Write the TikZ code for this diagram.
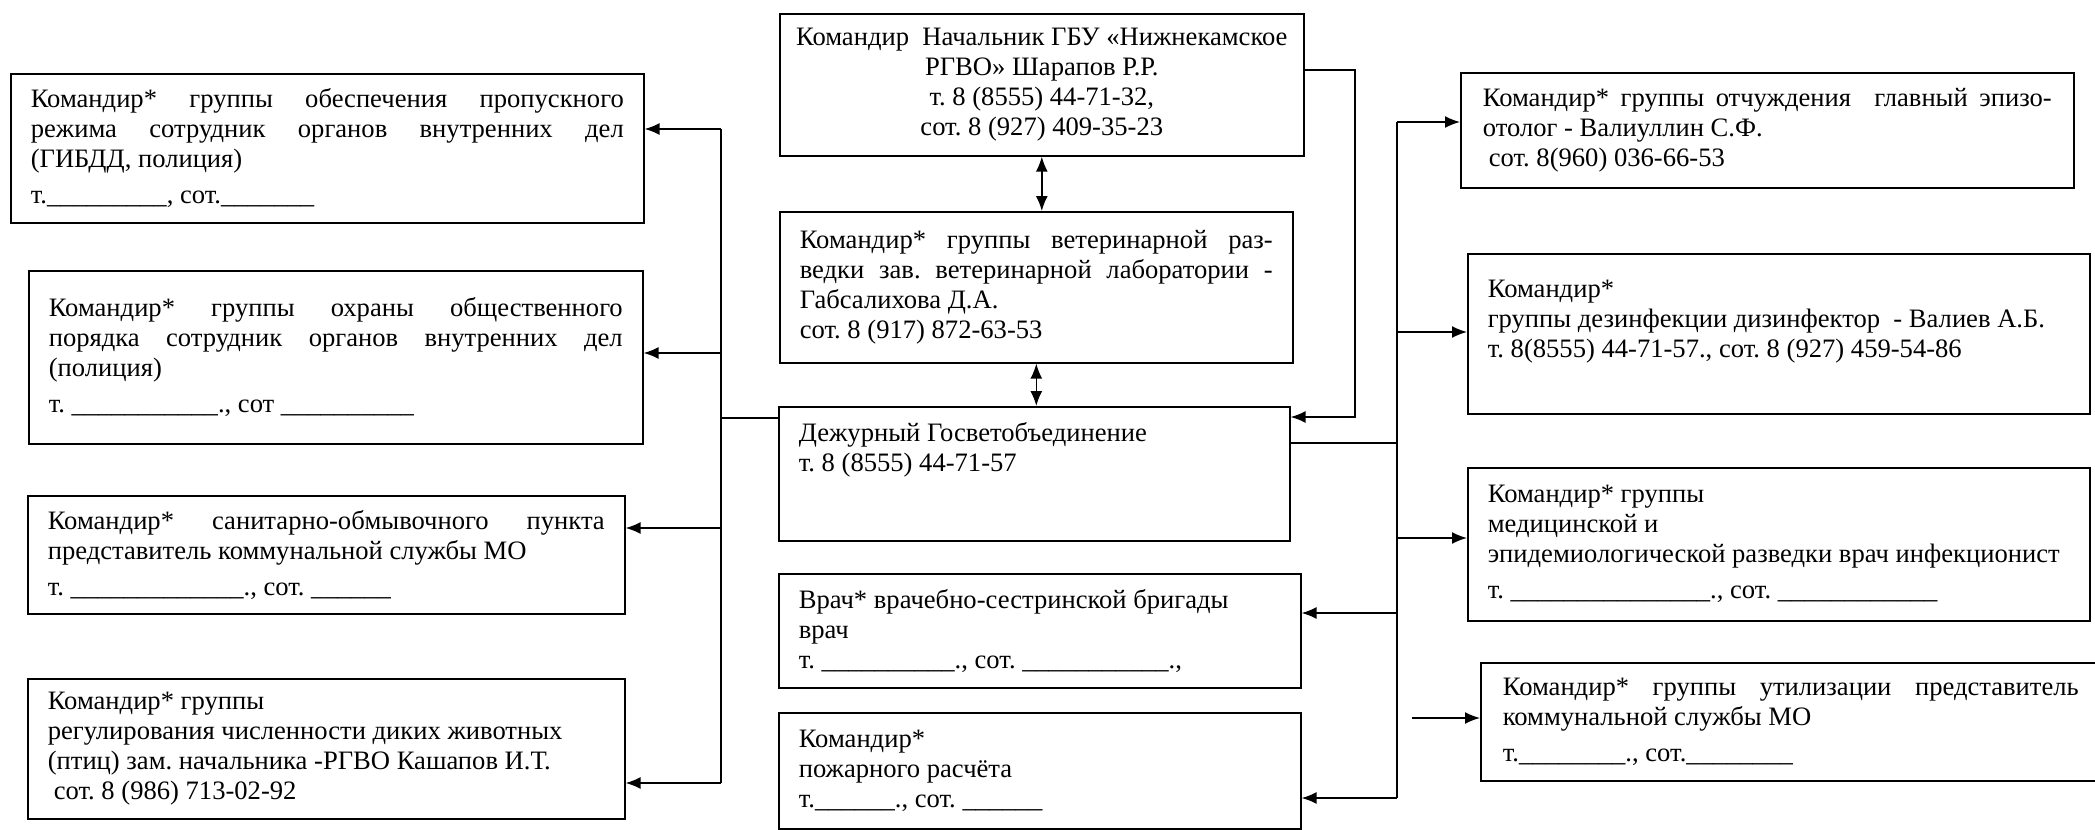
\documentclass[tikz,border=0pt]{standalone}
\usepackage{fontspec}
\setmainfont{Liberation Serif}
\usetikzlibrary{arrows.meta}
\newcommand\blank[1]{\foreach\k in {1,...,#1}{\_}}
\tikzset{
    unit/.style={draw, line width=0.8pt, anchor=north west, inner xsep=10pt, inner ysep=0pt,
        align=justify, font=\fontsize{13.3}{15}\selectfont,
        execute at begin node={\frenchspacing\spaceskip=0.25em plus 3em minus 0.05em\relax}},
    link/.style={line width=0.8pt},
    >={Latex[length=7.5pt,width=6pt]}
}
\begin{document}
\begin{tikzpicture}[x=0.5pt,y=-0.5pt]
            \useasboundingbox (0,0) rectangle (2095,830);
            % left column
            \node[unit, text width=296.5pt, minimum height=74.5pt] (L1) at (10,73)
                {Командир* группы обеспечения пропускного\linebreak
                 режима сотрудник органов внутренних дел\linebreak
                 (ГИБДД, полиция)\\[3pt]
                 т.\blank{9}, сот.\blank{7}};
            \node[unit, text width=287pt, minimum height=86.5pt] (L2) at (28,270)
                {Командир* группы охраны общественного\linebreak
                 порядка сотрудник органов внутренних дел\linebreak
                 (полиция)\\[3pt]
                 т. \blank{11}., сот \blank{10}};
            \node[unit, text width=278.5pt, minimum height=59pt] (L3) at (27,495)
                {Командир* санитарно-обмывочного пункта\linebreak
                 представитель коммунальной службы МО\\[3pt]
                 т. \blank{13}., сот. \blank{6}};
            \node[unit, text width=278.5pt, minimum height=70pt] (L4) at (27,678)
                {Командир* группы\newline
                 регулирования численности диких животных\newline
                 (птиц) зам. начальника -РГВО Кашапов И.Т.\newline
                 \hspace*{3pt}сот. 8 (986) 713-02-92};
            % centre column
            \node[unit, align=flush center, execute at begin node={}, inner xsep=6pt, text width=250pt,
                  minimum height=71pt] (C1) at (779,13)
                {Командир\ \ Начальник ГБУ «Нижнекамское\\
                 РГВО» Шарапов Р.Р.\\
                 т. 8 (8555) 44-71-32,\\
                 сот. 8 (927) 409-35-23};
            \node[unit, text width=236.5pt, minimum height=75.5pt] (C2) at (779,211)
                {Командир* группы ветеринарной раз-\linebreak
                 ведки зав. ветеринарной лаборатории -\linebreak
                 Габсалихова Д.А.\newline
                 сот. 8 (917) 872-63-53};
            \node[unit, text width=235.5pt, minimum height=67pt] (C3) at (778,406)
                {Дежурный Госветобъединение\newline
                 т. 8 (8555) 44-71-57\rule[-27pt]{0pt}{1pt}};
            \node[unit, text width=241pt, minimum height=57pt] (C4) at (778,573)
                {Врач* врачебно-сестринской бригады\newline
                 врач\newline
                 т. \blank{10}., сот. \blank{11}.,};
            \node[unit, text width=241pt, minimum height=58pt] (C5) at (778,712)
                {Командир*\newline
                 пожарного расчёта\newline
                 т.\blank{6}., сот. \blank{6}};
            % right column
            \node[unit, inner xsep=11pt, text width=284.5pt, minimum height=57.5pt] (R1) at (1460,72)
                {Командир* группы отчуждения\ \ главный эпизо-\linebreak
                 отолог - Валиуллин С.Ф.\newline
                 \hspace*{3pt}сот. 8(960) 036-66-53};
            \node[unit, text width=291pt, minimum height=80pt] (R2) at (1467,253)
                {Командир*\newline
                 группы дезинфекции дизинфектор\ \ - Валиев А.Б.\newline
                 т. 8(8555) 44-71-57., сот. 8 (927) 459-54-86\rule[-15pt]{0pt}{1pt}};
            \node[unit, text width=291pt, minimum height=76.5pt] (R3) at (1467,467)
                {Командир* группы\newline
                 медицинской и\newline
                 эпидемиологической разведки врач инфекционист\\[3pt]
                 т. \blank{15}., сот. \blank{12}};
            \node[unit, inner xsep=11pt, text width=288pt, minimum height=59pt] (R4) at (1480,662)
                {Командир* группы утилизации представитель\linebreak
                 коммунальной службы МО\\[3pt]
                 т.\blank{8}., сот.\blank{8}};
            % links
            \draw[link,<->] (C1.south) -- (C1.south |- C2.north);
            \draw[link,<->] (C2.south) -- (C2.south |- C3.north);
            \foreach \n/\y in {L1/129,L2/353,L3/528,L4/783} {
                \coordinate (lb-\n) at (721,\y);
                \draw[link,->] (lb-\n) -- (lb-\n -| \n.east);
            }
            \draw[link] (lb-L1) -- (lb-L4);
            \coordinate (lb-C3) at (721,418);
            \draw[link] (lb-C3) -- (lb-C3 -| C3.west);
            \coordinate (top-r) at (1355,70);
            \coordinate (top-d) at (1355,417);
            \draw[link,->] (C1.east |- top-r) -- (top-r) -- (top-d) -- (top-d -| C3.east);
            \coordinate (rb-C3) at (1397,443);
            \draw[link] (rb-C3 -| C3.east) -- (rb-C3);
            \foreach \n/\y in {R1/122,R2/332,R3/538} {
                \coordinate (rb-\n) at (1397,\y);
                \draw[link,->] (rb-\n) -- (rb-\n -| \n.west);
            }
            \foreach \n/\y in {C4/613,C5/798} {
                \coordinate (rb-\n) at (1397,\y);
                \draw[link,->] (rb-\n) -- (rb-\n -| \n.east);
            }
            \draw[link] (rb-R1) -- (rb-C5);
            \coordinate (free) at (1412,718);
            \draw[link,->] (free) -- (free -| R4.west);
\end{tikzpicture}
\end{document}
